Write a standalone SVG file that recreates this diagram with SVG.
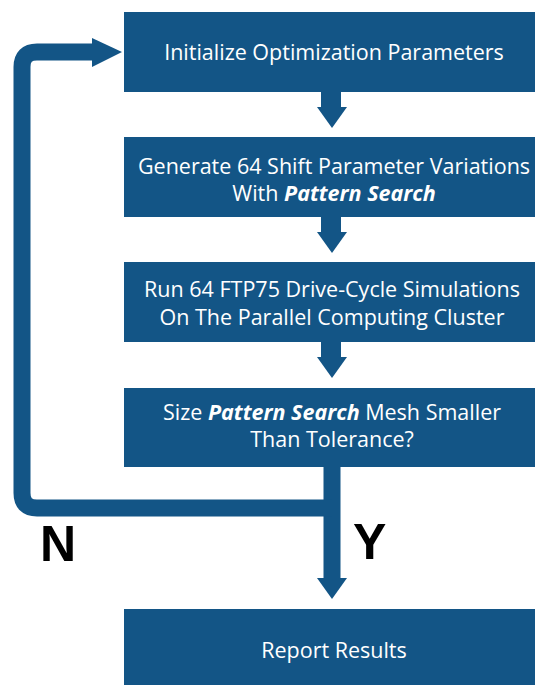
<svg xmlns="http://www.w3.org/2000/svg" width="535" height="685" viewBox="0 0 535 685">
<style>
.box{fill:#135586}
.t{font-family:"Open Sans","Liberation Sans",sans-serif;font-size:21.5px;fill:#ffffff;text-anchor:middle}
.b{font-weight:bold;font-style:italic}
.lbl{font-family:"Liberation Sans",Arial,sans-serif;font-weight:bold;font-size:50px;fill:#000000}
.ln{fill:none;stroke:#135586;stroke-width:17}
.hd{fill:#135586}
</style>
<rect width="535" height="685" fill="#ffffff"/>
<g id="connectors">
<path class="ln" d="M332,467 V580"/>
<polygon class="hd" points="317,578 347,578 332,599"/>
<path class="ln" d="M332,508 H37 Q22,508 22,493 V67 Q22,52 37,52 H94"/>
<polygon class="hd" points="92,38 92,67 122,52"/>
<rect class="hd" x="321" y="92" width="20" height="17"/>
<polygon class="hd" points="317,107 347,107 332,128"/>
<rect class="hd" x="321" y="217" width="20" height="17"/>
<polygon class="hd" points="317,232 347,232 332,253"/>
<rect class="hd" x="321" y="342" width="20" height="17"/>
<polygon class="hd" points="317,357 347,357 332,378"/>
</g>
<g id="n1"><rect class="box" x="124" y="12" width="420" height="80"/><text class="t" x="334" y="60">Initialize Optimization Parameters</text></g>
<g id="n2"><rect class="box" x="124" y="137" width="420" height="80"/><text class="t" x="334" y="174">Generate 64 Shift Parameter Variations</text><text class="t" x="334" y="201">With <tspan class="b">Pattern Search</tspan></text></g>
<g id="n3"><rect class="box" x="124" y="262" width="420" height="80"/><text class="t" x="332" y="297">Run 64 FTP75 Drive-Cycle Simulations</text><text class="t" x="332" y="325">On The Parallel Computing Cluster</text></g>
<g id="n4"><rect class="box" x="124" y="388" width="420" height="79"/><text class="t" x="332" y="420">Size <tspan class="b">Pattern Search</tspan> Mesh Smaller</text><text class="t" x="332" y="447">Than Tolerance?</text></g>
<g id="n5"><rect class="box" x="124" y="609" width="420" height="80"/><text class="t" x="334" y="658">Report Results</text></g>
<text class="lbl" x="40" y="561">N</text>
<text class="lbl" x="353" y="559">Y</text>
</svg>
